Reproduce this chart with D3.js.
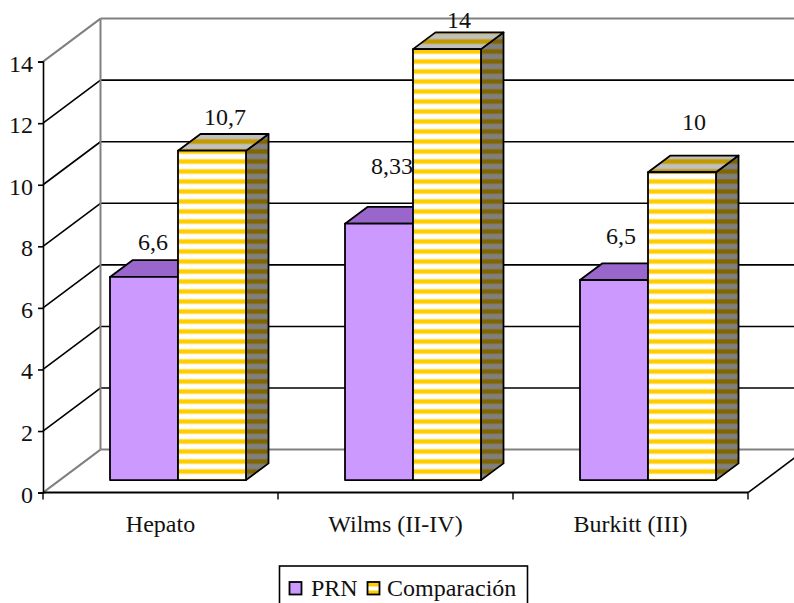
<!DOCTYPE html>
<html>
<head>
<meta charset="utf-8">
<script src="https://cdn.jsdelivr.net/npm/d3@7"></script>
<style>
html, body { margin: 0; padding: 0; background: #fff; overflow: hidden; }
text { font-family: "Liberation Serif", serif; fill: #111; }
</style>
</head>
<body>
<svg id="chart" width="794" height="603"></svg>
<script>
const categories = ["Hepato", "Wilms (II-IV)", "Burkitt (III)"];
const seriesNames = ["PRN", "Comparación"];
const prnValues = [6.6, 8.33, 6.5];
const comparacionValues = [10.7, 14, 10];
const valueLabels = [["6,6", "8,33", "6,5"], ["10,7", "14", "10"]];
const yTicks = [0, 2, 4, 6, 8, 10, 12, 14];

// Hand-placed offsets of the data labels from each bar's top centre.
const labelNudge = [
  [[9, -35], [13, -57.5], [7, -44.5]],
  [[13, -33.6], [12, -29], [12, -50.4]]
];

const svg = d3.select("#chart");
const FONT = 24;

// 3D projection of the plot box: depth vector of the walls and of the bars.
const wall = { dx: 57.5, dy: -43 };
const barDepth = { dx: 22.5, dy: -16.7 };
const barShift = { dx: 17.5, dy: -12.5 };

const x = d3.scaleBand().domain(categories).range([43, 748]);
const y = d3.scaleLinear().domain([0, 14]).range([492.6, 61.6]);
const barWidth = 68;

const defs = svg.append("defs");
function stripes(id, base, band, soft) {
  const p = defs.append("pattern").attr("id", id)
    .attr("patternUnits", "userSpaceOnUse")
    .attr("x", 0).attr("y", 8.5).attr("width", 10).attr("height", 10);
  p.append("rect").attr("width", 10).attr("height", 10).attr("fill", base);
  p.append("rect").attr("y", 0).attr("width", 10).attr("height", 6).attr("fill", soft);
  p.append("rect").attr("y", 1).attr("width", 10).attr("height", 4).attr("fill", band);
}
stripes("comp-front", "#ffffff", "#ffcc00", "#fff0b8");
stripes("comp-top", "#c0c0c0", "#c29a00", "#c0b480");
stripes("comp-side", "#808080", "#806600", "#807860");

const black = "#000", gray = "#808080";
const xLeft = x.range()[0], xRight = x.range()[1];

// Back wall and side wall
const walls = svg.append("g");
function seg(g, x1, y1, x2, y2, stroke, w) {
  g.append("line").attr("x1", x1).attr("y1", y1).attr("x2", x2).attr("y2", y2)
    .attr("stroke", stroke).attr("stroke-width", w);
}
yTicks.forEach(t => {
  const yy = y(t);
  if (t > 0 && t < 14) {
    seg(walls, xLeft, yy, xLeft + wall.dx, yy + wall.dy, black, 1.6);
    seg(walls, xLeft + wall.dx, yy + wall.dy, 794, yy + wall.dy, black, 1.6);
  }
});
seg(walls, xLeft, y(14), xLeft + wall.dx, y(14) + wall.dy, gray, 2);
seg(walls, xLeft + wall.dx, y(14) + wall.dy, 794, y(14) + wall.dy, gray, 2);
seg(walls, xLeft + wall.dx, y(14) + wall.dy, xLeft + wall.dx, y(0) + wall.dy, gray, 2);
seg(walls, xLeft, y(0), xLeft + wall.dx, y(0) + wall.dy, gray, 2);
seg(walls, xLeft + wall.dx, y(0) + wall.dy, 794, y(0) + wall.dy, gray, 2);
seg(walls, xRight, y(0), xRight + wall.dx, y(0) + wall.dy, black, 1.6);

// Front axes
const yAxis = d3.axisLeft(y).tickValues(yTicks).tickSize(5).tickPadding(5).tickFormat(d3.format("d"));
const gy = svg.append("g").attr("transform", `translate(${xLeft},0)`).call(yAxis);
gy.selectAll(".domain").attr("stroke", black).attr("stroke-width", 1.6);
gy.selectAll("line").attr("stroke", black).attr("stroke-width", 1.6);
gy.selectAll("text").style("font-family", '"Liberation Serif", serif').style("font-size", FONT + "px").attr("fill", "#111").attr("dy", "9.5px");

svg.append("line").attr("x1", xLeft).attr("x2", xRight).attr("y1", y(0)).attr("y2", y(0))
  .attr("stroke", black).attr("stroke-width", 2);
[0, 1, 2, 3].forEach(i => {
  const px = xLeft + i * x.bandwidth();
  seg(svg, px, y(0), px, y(0) + 7, black, 1.4);
});

svg.append("g").selectAll("text").data(categories).join("text")
  .attr("x", d => x(d) + x.bandwidth() / 2)
  .attr("y", 531.5)
  .attr("text-anchor", "middle")
  .style("font-size", FONT + "px")
  .text(d => d);

// Bars as three-faced prisms
const series = [
  { values: prnValues, front: "#cc99ff", top: "#9966cc", side: "#664d80", offset: -barWidth },
  { values: comparacionValues, front: "url(#comp-front)", top: "url(#comp-top)", side: "url(#comp-side)", offset: 0 }
];
const bars = svg.append("g");
categories.forEach((cat, c) => {
  series.forEach(s => {
    const v = s.values[c];
    const left = x(cat) + x.bandwidth() / 2 + barShift.dx + s.offset;
    const right = left + barWidth;
    const bottom = y(0) + barShift.dy;
    const top = y(v) + barShift.dy;
    const d = barDepth;
    const g = bars.append("g").attr("stroke", black).attr("stroke-width", 1.8).attr("stroke-linejoin", "round");
    g.append("path").attr("fill", s.side)
      .attr("d", d3.line()([[right, top], [right + d.dx, top + d.dy], [right + d.dx, bottom + d.dy], [right, bottom]]) + "Z");
    g.append("path").attr("fill", s.top)
      .attr("d", d3.line()([[left, top], [left + d.dx, top + d.dy], [right + d.dx, top + d.dy], [right, top]]) + "Z");
    g.append("rect").attr("x", left).attr("y", top).attr("width", barWidth).attr("height", bottom - top).attr("fill", s.front);
  });
});

// Data labels
const labels = svg.append("g");
series.forEach((s, i) => {
  categories.forEach((cat, c) => {
    const left = x(cat) + x.bandwidth() / 2 + barShift.dx + s.offset;
    labels.append("text")
      .attr("x", left + barWidth / 2 + labelNudge[i][c][0])
      .attr("y", y(s.values[c]) + barShift.dy + labelNudge[i][c][1])
      .attr("dy", "0.34em")
      .attr("text-anchor", "middle")
      .style("font-size", FONT + "px")
      .text(valueLabels[i][c]);
  });
});

// Legend: its lower edge runs past the bottom of the page
const legend = svg.append("g");
legend.append("rect").attr("x", 279.5).attr("y", 566).attr("width", 248).attr("height", 60)
  .attr("fill", "#fff").attr("stroke", black).attr("stroke-width", 1.6);
const legendFill = ["#cc99ff", "url(#legend-comp)"];
const lg = defs.append("linearGradient").attr("id", "legend-comp").attr("x1", 0).attr("x2", 0).attr("y1", 0).attr("y2", 1);
[[0, "#ffcc00"], [0.3, "#ffcc00"], [0.42, "#ffffff"], [0.62, "#ffffff"], [0.75, "#ffcc00"], [1, "#ffcc00"]]
  .forEach(([o, col]) => lg.append("stop").attr("offset", o).attr("stop-color", col));
[[289.5, 311], [367.5, 387]].forEach(([sx, tx], i) => {
  legend.append("rect").attr("x", sx).attr("y", 582).attr("width", 12).attr("height", 12.5)
    .attr("fill", legendFill[i]).attr("stroke", black).attr("stroke-width", 1.8);
  legend.append("text").attr("x", tx).attr("y", 595.5).style("font-size", FONT + "px").text(seriesNames[i]);
});
</script>
</body>
</html>
